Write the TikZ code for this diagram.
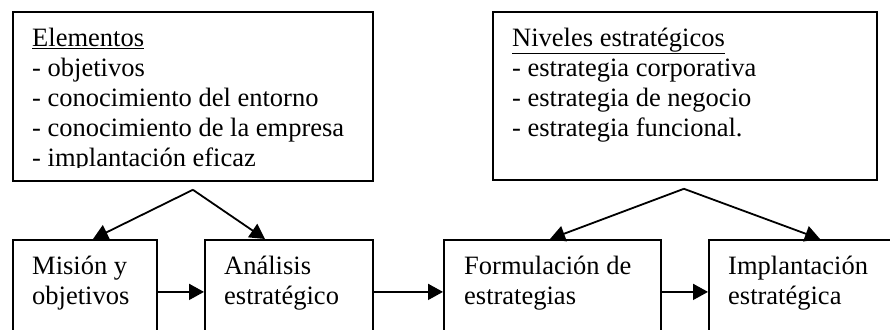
\documentclass[tikz,border=0pt]{standalone}
\usepackage{fontspec}
\setmainfont{Liberation Serif}
\usetikzlibrary{arrows.meta,positioning}
\tikzstyle{caja} = [draw=black, line width=1.8pt, rectangle, inner sep=0pt, anchor=north west]
\tikzstyle{texto} = [align=left, inner sep=0pt, anchor=north west, font=\fontsize{26.5}{30}\selectfont]
\tikzstyle{flecha} = [line width=1.8pt, -{Triangle[length=15pt,width=16pt]}]

\begin{document}
\begin{tikzpicture}[x=1pt,y=-1pt]
					\useasboundingbox (0,0) rectangle (890,329);
					\clip (0,0) rectangle (890,329);
					% cajas de arriba
					\node [caja, minimum width=360pt, minimum height=169pt] (elementos) at (12,11) {};
					\node [caja, minimum width=384pt, minimum height=168pt] (niveles) at (492,11) {};
					\begin{scope}
						\clip (12,11) rectangle (372,167);
						\node [texto] (txtelementos) at ([xshift=20pt,yshift=-16.5pt]elementos.north west) {%
							\underline{Elementos}\\
							- objetivos\\
							- conocimiento del entorno\\
							- conocimiento de la empresa\\
							- implantación eficaz};
					\end{scope}
					\node [texto] (txtniveles) at ([xshift=20pt,yshift=-16.5pt]niveles.north west) {%
						\underline{Niveles estratégicos}\\
						- estrategia corporativa\\
						- estrategia de negocio\\
						- estrategia funcional.};
					% cajas de abajo
					\node [caja, minimum width=144pt, minimum height=104pt] (mision) at (12,239) {};
					\node [caja, minimum width=168pt, minimum height=104pt] (analisis) at (204,239) {};
					\node [caja, minimum width=217pt, minimum height=104pt] (formulacion) at (443,239) {};
					\node [caja, minimum width=220pt, minimum height=104pt] (implantacion) at (708,239) {};
					\node [texto] (txtmision) at ([xshift=20pt,yshift=-16.5pt]mision.north west) {Misión y\\objetivos};
					\node [texto] (txtanalisis) at ([xshift=20pt,yshift=-16.5pt]analisis.north west) {Análisis\\estratégico};
					\node [texto] (txtformulacion) at ([xshift=21pt,yshift=-16.5pt]formulacion.north west) {Formulación de\\estrategias};
					\node [texto] (txtimplantacion) at ([xshift=20pt,yshift=-16.5pt]implantacion.north west) {Implantación\\estratégica};
					% flechas
					\draw [flecha] (mision) -- (analisis);
					\draw [flecha] (analisis) -- (formulacion);
					\draw [flecha] (formulacion) -- (implantacion);
					\coordinate (picoelementos) at ([yshift=-8pt]elementos.south);
					\coordinate (piconiveles) at ([xshift=-1pt,yshift=-8pt]niveles.south);
					\draw [flecha] (picoelementos) -- ([xshift=81pt]mision.north west);
					\draw [flecha] (picoelementos) -- ([xshift=61pt]analisis.north west);
					\draw [flecha] (piconiveles) -- ([xshift=107pt]formulacion.north west);
					\draw [flecha] (piconiveles) -- ([xshift=112pt]implantacion.north west);
\end{tikzpicture}
\end{document}
